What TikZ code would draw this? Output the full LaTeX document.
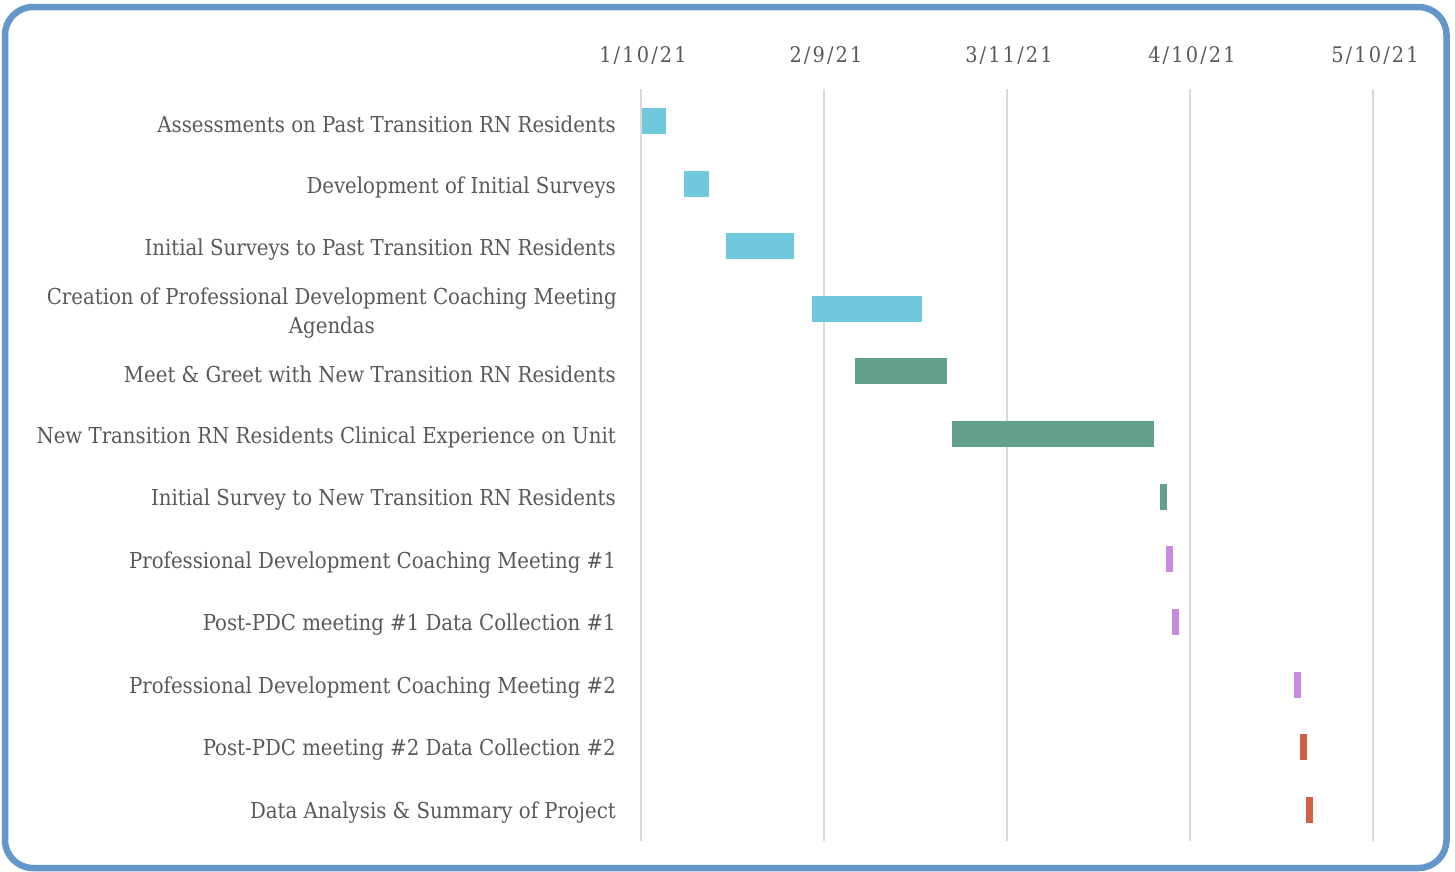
\documentclass[tikz,border=0pt]{standalone}
\usepackage{fontspec}
\setmainfont{DejaVu Serif Condensed}
\newfontfamily\datefont[LetterSpace=10]{DejaVu Serif Condensed}
\definecolor{frameblue}{RGB}{99,150,201}
\definecolor{txtgray}{RGB}{89,89,89}
\definecolor{gridgray}{RGB}{217,217,217}
\definecolor{barcyan}{RGB}{111,200,220}
\definecolor{bargreen}{RGB}{98,160,138}
\definecolor{barpurple}{RGB}{200,138,224}
\definecolor{barred}{RGB}{208,96,70}
\tikzset{
  lbl/.style={anchor=east, text=txtgray, inner sep=0, font=\fontsize{21.95}{29}\selectfont},
  datelbl/.style={anchor=center, text=txtgray, inner sep=0, font=\datefont\fontsize{21.5}{28}\selectfont},
  bar/.style={anchor=west, inner sep=0, minimum height=26, draw=none},
  gridln/.style={draw=gridgray, line width=2},
}
\begin{document}
\begin{tikzpicture}[x=1pt,y=-1pt]
\useasboundingbox (0,0) rectangle (1455,871);
\fill[white] (0,0) rectangle (1455,871);
\draw[frameblue, line width=6.5, rounded corners=28] (5,7) rectangle (1446.5,868);
% grid
\foreach \gx in {641,824,1007,1190,1373} {\draw[gridln] (\gx,89) -- (\gx,841);}
% dates
\node[datelbl] (d1) at (643,56) {1/10/21};
\node[datelbl] (d2) at (826,56) {2/9/21};
\node[datelbl] (d3) at (1009,56) {3/11/21};
\node[datelbl] (d4) at (1192,56) {4/10/21};
\node[datelbl] (d5) at (1375,56) {5/10/21};
% labels
\node[lbl] (l1) at (616,124.75) {Assessments on Past Transition RN Residents};
\node[lbl] (l2) at (616,187.25) {Development of Initial Surveys};
\node[lbl] (l3) at (616,249.75) {Initial Surveys to Past Transition RN Residents};
\node[lbl, align=center] (l4) at (617,313) {Creation of Professional Development Coaching Meeting\\Agendas};
\node[lbl] (l5) at (616,374.75) {Meet \& Greet with New Transition RN Residents};
\node[lbl] (l6) at (616,437.25) {New Transition RN Residents Clinical Experience on Unit};
\node[lbl] (l7) at (616,499.75) {Initial Survey to New Transition RN Residents};
\node[lbl] (l8) at (616,562.25) {Professional Development Coaching Meeting \#1};
\node[lbl] (l9) at (616,624.75) {Post-PDC meeting \#1 Data Collection \#1};
\node[lbl] (l10) at (616,687.25) {Professional Development Coaching Meeting \#2};
\node[lbl] (l11) at (616,749.75) {Post-PDC meeting \#2 Data Collection \#2};
\node[lbl] (l12) at (616,812.25) {Data Analysis \& Summary of Project};
% bars
\node[bar, fill=barcyan, minimum width=24] (b1) at (642,121) {};
\node[bar, fill=barcyan, minimum width=25] (b2) at (684,183.5) {};
\node[bar, fill=barcyan, minimum width=68] (b3) at (726,246) {};
\node[bar, fill=barcyan, minimum width=110] (b4) at (812,308.5) {};
\node[bar, fill=bargreen, minimum width=92] (b5) at (855,371) {};
\node[bar, fill=bargreen, minimum width=202] (b6) at (952,433.5) {};
\node[bar, fill=bargreen, minimum width=7] (b7) at (1160,497) {};
\node[bar, fill=barpurple, minimum width=7] (b8) at (1166,559) {};
\node[bar, fill=barpurple, minimum width=7] (b9) at (1172,622) {};
\node[bar, fill=barpurple, minimum width=7] (b10) at (1294,685) {};
\node[bar, fill=barred, minimum width=7] (b11) at (1300,747) {};
\node[bar, fill=barred, minimum width=7] (b12) at (1306,810) {};
\end{tikzpicture}
\end{document}
